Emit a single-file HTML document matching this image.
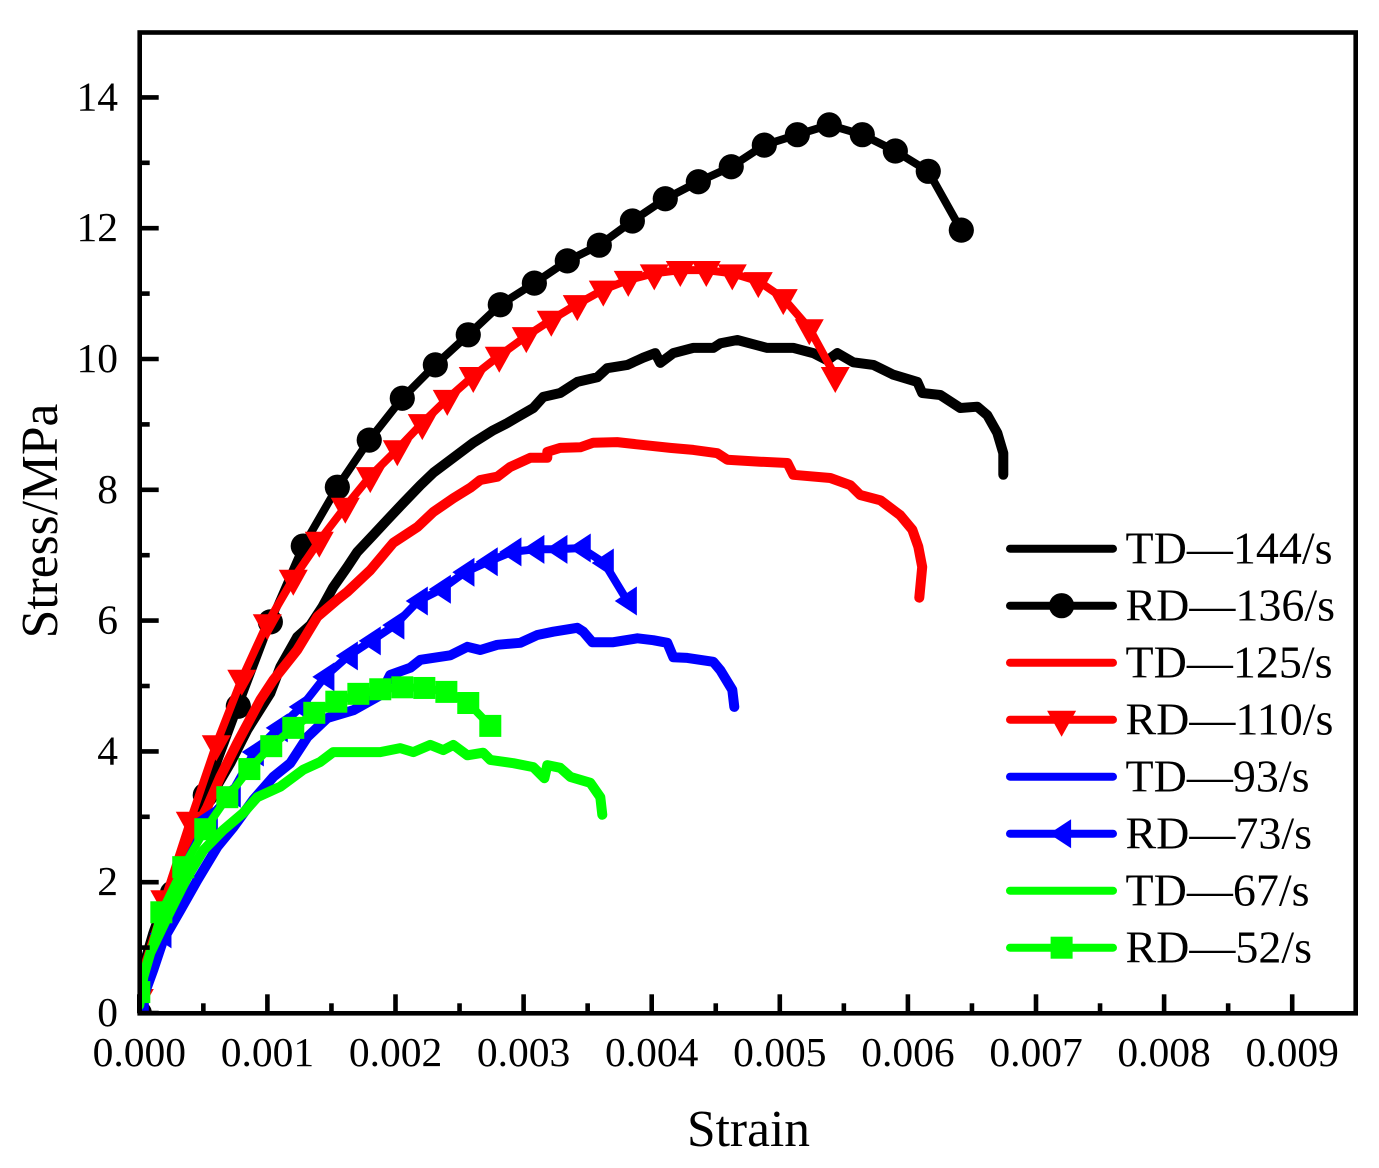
<!DOCTYPE html>
<html lang="en">
<head>
<meta charset="utf-8">
<title>Stress-strain curves</title>
<style>
html,body{margin:0;padding:0;background:#fff;}
svg{display:block;font-family:"Liberation Serif",serif;}
</style>
</head>
<body>
<svg id="chart" xmlns="http://www.w3.org/2000/svg" width="1379" height="1168" viewBox="0 0 1379 1168">
<defs><clipPath id="plot-clip"><rect x="139.7" y="32.5" width="1216" height="980.8"/></clipPath></defs>
<rect x="0" y="0" width="1379" height="1168" fill="#fff"/>
<g id="series-layer" clip-path="url(#plot-clip)"></g>
<g id="axis-layer"></g>
<text x="748.5" y="1146" font-size="51.5" text-anchor="middle" fill="#000">Strain</text>
<text transform="translate(57 521) rotate(-90)" font-size="51.5" text-anchor="middle" fill="#000">Stress/MPa</text>
<g id="legend-layer"></g>
</svg>
<script>
// Strain values are in units of 10^-3; stress values are in MPa.
const xTickValues = [0, 1, 2, 3, 4, 5, 6, 7, 8, 9];
const xTickLabels = ["0.000", "0.001", "0.002", "0.003", "0.004", "0.005", "0.006", "0.007", "0.008", "0.009"];
const xMinorValues = [0.5, 1.5, 2.5, 3.5, 4.5, 5.5, 6.5, 7.5, 8.5, 9.5];
const yTickValues = [0, 2, 4, 6, 8, 10, 12, 14];
const yTickLabels = ["0", "2", "4", "6", "8", "10", "12", "14"];
const yMinorValues = [1, 3, 5, 7, 9, 11, 13];

const td144Strain = [0,.031,.109,.219,.320,.476,.554,.710,.843,1.023,1.101,1.233,1.335,1.429,1.514,1.624,1.702,1.827,1.936,2.061,2.194,2.295,2.451,2.607,2.763,2.873,2.951,3.076,3.154,3.286,3.419,3.575,3.653,3.810,3.934,4.028,4.067,4.169,4.325,4.481,4.536,4.668,4.824,4.902,5.105,5.261,5.371,5.449,5.574,5.730,5.886,6.073,6.112,6.253,6.409,6.542,6.620,6.698,6.745,6.745];
const td144Stress = [.05,.70,1.22,1.83,2.34,2.84,3.30,3.82,4.33,4.89,5.29,5.75,5.93,6.21,6.51,6.82,7.05,7.31,7.54,7.80,8.07,8.26,8.49,8.72,8.91,9.02,9.11,9.25,9.42,9.48,9.65,9.72,9.86,9.91,10.02,10.09,9.94,10.09,10.17,10.17,10.24,10.29,10.21,10.17,10.17,10.09,9.98,10.09,9.95,9.91,9.76,9.65,9.48,9.45,9.25,9.27,9.14,8.87,8.56,8.23];

const rd136Strain = [0,.258,.515,.773,1.023,1.280,1.546,1.795,2.053,2.311,2.568,2.818,3.084,3.341,3.591,3.849,4.106,4.364,4.621,4.879,5.137,5.386,5.644,5.902,6.159,6.417];
const rd136Stress = [0,1.83,3.33,4.69,5.98,7.14,8.04,8.76,9.40,9.91,10.37,10.83,11.16,11.50,11.74,12.11,12.45,12.71,12.94,13.27,13.43,13.58,13.43,13.18,12.87,11.97];

const td125Strain = [0,.062,.164,.265,.398,.531,.632,.765,.945,1.046,1.233,1.390,1.546,1.624,1.803,1.983,2.170,2.295,2.451,2.584,2.662,2.795,2.896,3.052,3.185,3.185,3.286,3.443,3.544,3.731,3.911,4.145,4.325,4.512,4.590,4.848,5.059,5.105,5.394,5.550,5.628,5.785,5.941,6.034,6.081,6.112,6.089];
const td125Stress = [.40,.81,1.42,2.08,2.65,3.15,3.61,4.13,4.79,5.09,5.55,6.06,6.32,6.44,6.77,7.19,7.43,7.66,7.87,8.03,8.15,8.20,8.35,8.49,8.49,8.58,8.64,8.65,8.72,8.73,8.69,8.64,8.61,8.56,8.46,8.43,8.41,8.23,8.18,8.07,7.92,7.84,7.61,7.39,7.13,6.82,6.35];

const rd110Strain = [0,.199,.398,.601,.800,.999,1.202,1.405,1.608,1.803,2.014,2.209,2.404,2.607,2.810,3.021,3.216,3.419,3.622,3.817,4.020,4.223,4.426,4.629,4.832,5.027,5.230,5.433];
const rd110Stress = [.23,1.74,2.94,4.11,5.11,5.96,6.64,7.22,7.74,8.21,8.62,9.02,9.39,9.74,10.05,10.35,10.60,10.84,11.06,11.21,11.31,11.36,11.36,11.31,11.19,10.93,10.47,9.74];

const td93Strain = [0,.031,.109,.187,.320,.453,.609,.734,.890,1.046,1.179,1.312,1.468,1.671,1.881,1.959,2.116,2.194,2.428,2.561,2.662,2.795,2.974,3.107,3.232,3.419,3.466,3.536,3.700,3.888,4.012,4.122,4.169,4.278,4.481,4.536,4.629,4.645];
const td93Stress = [.05,.24,.66,1.12,1.57,2.03,2.54,2.84,3.26,3.61,3.82,4.22,4.51,4.63,4.86,5.17,5.28,5.40,5.47,5.60,5.55,5.63,5.66,5.78,5.83,5.89,5.83,5.67,5.67,5.73,5.70,5.66,5.44,5.43,5.37,5.24,4.94,4.68];

const rd73Strain = [0,.177,.355,.539,.718,.898,1.085,1.265,1.449,1.632,1.811,1.995,2.178,2.358,2.542,2.724,2.909,3.088,3.268,3.450,3.630,3.810];
const rd73Stress = [.08,1.21,2.26,2.97,3.36,3.99,4.36,4.68,5.14,5.46,5.69,5.93,6.30,6.48,6.74,6.90,7.05,7.09,7.09,7.11,6.88,6.30];

const td67Strain = [0,.031,.086,.219,.375,.500,.656,.812,.921,1.101,1.280,1.413,1.514,1.671,1.881,2.037,2.139,2.272,2.373,2.451,2.561,2.685,2.740,2.920,3.076,3.162,3.185,3.286,3.365,3.521,3.599,3.614];
const td67Stress = [.12,.55,.92,1.47,2.08,2.49,2.80,3.06,3.30,3.46,3.72,3.84,3.99,3.99,3.99,4.05,3.99,4.10,4.02,4.10,3.94,3.98,3.87,3.82,3.76,3.59,3.79,3.75,3.61,3.52,3.30,3.03];

const rd52Strain = [0,.172,.343,.515,.687,.859,1.030,1.202,1.366,1.538,1.710,1.881,2.053,2.225,2.397,2.568,2.740];
const rd52Stress = [.32,1.54,2.23,2.81,3.30,3.73,4.08,4.36,4.59,4.76,4.88,4.95,4.98,4.97,4.91,4.74,4.39];

const legendLabels = ["TD\u2014144/s", "RD\u2014136/s", "TD\u2014125/s", "RD\u2014110/s", "TD\u201493/s", "RD\u201473/s", "TD\u201467/s", "RD\u201452/s"];
const seriesColors = ["#000000", "#000000", "#ff0000", "#ff0000", "#0000ff", "#0000ff", "#00ff00", "#00ff00"];
const seriesMarkers = ["none", "circle", "none", "down", "none", "left", "none", "square"];
const seriesStrain = [td144Strain, rd136Strain, td125Strain, rd110Strain, td93Strain, rd73Strain, td67Strain, rd52Strain];
const seriesStress = [td144Stress, rd136Stress, td125Stress, rd110Stress, td93Stress, rd73Stress, td67Stress, rd52Stress];
const seriesSlugs = ["td-144", "rd-136", "td-125", "rd-110", "td-93", "rd-73", "td-67", "rd-52"];

const NS = "http://www.w3.org/2000/svg";
const plotLeft = 139.7, plotRight = 1355.7, plotTop = 32.5, plotBottom = 1013.3;
const xScale = v => 139.3 + v * 128.1;
const yScale = v => 1013 - v * 65.4;

function make(tag, attrs, parent) {
  const el = document.createElementNS(NS, tag);
  for (const k in attrs) el.setAttribute(k, attrs[k]);
  parent.appendChild(el);
  return el;
}

function drawMarker(type, cx, cy, color, parent) {
  let m = null;
  if (type === "circle") {
    m = make("circle", {cx: cx, cy: cy, r: 12.6, fill: color}, parent);
  } else if (type === "down") {
    m = make("polygon", {points: (cx-14.5)+","+(cy-9)+" "+(cx+14.5)+","+(cy-9)+" "+cx+","+(cy+17), fill: color}, parent);
  } else if (type === "left") {
    m = make("polygon", {points: (cx+9.5)+","+(cy-14.5)+" "+(cx+9.5)+","+(cy+14.5)+" "+(cx-12.6)+","+cy, fill: color}, parent);
  } else if (type === "square") {
    m = make("rect", {x: cx-11, y: cy-11, width: 22, height: 22, fill: color}, parent);
  }
  return m;
}

const seriesLayer = document.getElementById("series-layer");
seriesStrain.forEach((strain, s) => {
  const group = make("g", {}, seriesLayer);
  
  
  const stress = seriesStress[s];
  const pts = strain.map((v, i) => xScale(v).toFixed(1) + "," + yScale(stress[i]).toFixed(1)).join(" ");
  const width = seriesMarkers[s] === "none" ? 10 : 8;
  const line = make("polyline", {points: pts, fill: "none", stroke: seriesColors[s], "stroke-width": width, "stroke-linejoin": "round", "stroke-linecap": "round"}, group);
  
  
  if (seriesMarkers[s] !== "none") {
    strain.forEach((v, i) => {
      const mk = drawMarker(seriesMarkers[s], xScale(v), yScale(stress[i]), seriesColors[s], group);
      
      
    });
  }
});

const axisLayer = document.getElementById("axis-layer");
const frame = make("rect", {x: plotLeft, y: plotTop, width: plotRight - plotLeft, height: plotBottom - plotTop, fill: "none", stroke: "#000", "stroke-width": 4.6}, axisLayer);



function xTick(v, len, name) {
  const t = make("line", {x1: xScale(v), x2: xScale(v), y1: plotBottom, y2: plotBottom - len, stroke: "#000", "stroke-width": 4.6}, axisLayer);
  
  
}
function yTick(v, len, name) {
  const t = make("line", {x1: plotLeft, x2: plotLeft + len, y1: yScale(v), y2: yScale(v), stroke: "#000", "stroke-width": 4.6}, axisLayer);
  
  
}
xTickValues.forEach((v, i) => {
  xTick(v, 19, "x-major-tick");
  const label = make("text", {x: xScale(v), y: 1066, "font-size": 41.5, "text-anchor": "middle", fill: "#000"}, axisLayer);
  label.textContent = xTickLabels[i];
  
  
});
xMinorValues.forEach(v => { if (xScale(v) < plotRight - 2) xTick(v, 10, "x-minor-tick"); });
yTickValues.forEach((v, i) => {
  yTick(v, 19, "y-major-tick");
  const label = make("text", {x: 118, y: yScale(v) + 13, "font-size": 41.5, "text-anchor": "end", fill: "#000"}, axisLayer);
  label.textContent = yTickLabels[i];
  
  
});
yMinorValues.forEach(v => yTick(v, 10, "y-minor-tick"));

const legendLayer = document.getElementById("legend-layer");
legendLabels.forEach((txt, i) => {
  const cy = 548.7 + i * 57;
  const entry = make("g", {}, legendLayer);
  
  
  const ln = make("line", {x1: 1010, x2: 1113, y1: cy, y2: cy, stroke: seriesColors[i], "stroke-width": 8, "stroke-linecap": "round"}, entry);
  
  
  if (seriesMarkers[i] !== "none") {
    const mk = drawMarker(seriesMarkers[i], 1061.6, cy, seriesColors[i], entry);
    
    
  }
  const t = make("text", {x: 1125.5, y: cy + 14.6, "font-size": 46, fill: "#000"}, entry);
  t.textContent = txt;
  
  
});
</script>
</body>
</html>
